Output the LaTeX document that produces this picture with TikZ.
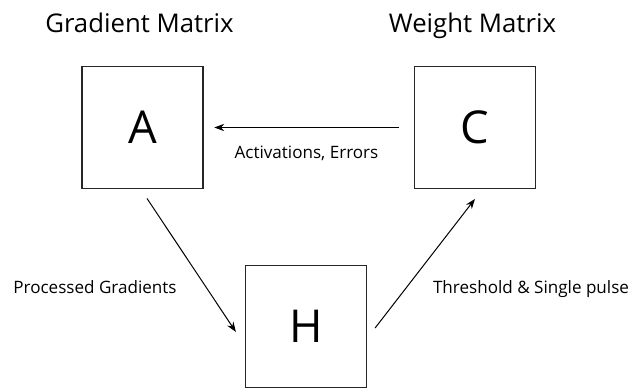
\documentclass[tikz,border=0pt]{standalone}
\usepackage{fontspec}
\setmainfont{Open Sans}
\usetikzlibrary{arrows.meta}
\begin{document}
\begin{tikzpicture}[x=0.75pt,y=-0.75pt,
  boxnode/.style={draw=black!85,line width=0.9pt,minimum width=90.75pt,minimum height=92pt,inner sep=0pt,font=\fontsize{34}{38}\selectfont},
  conn/.style={line width=0.75pt,-{Stealth[length=7.5pt,width=5.5pt]}},
  titlelbl/.style={anchor=base,inner sep=0pt,font=\fontsize{19.3}{22}\selectfont},
  edgelbl/.style={anchor=base,inner sep=0pt,font=\fontsize{12.8}{15}\selectfont}]
\useasboundingbox[fill=white] (0,0) rectangle (636,392);
\node[boxnode] (A) at (142.5,127.5) {A};
\node[boxnode] (C) at (475,127.5) {C};
\node[boxnode] (H) at (306,326.5) {H};
\node[titlelbl] (tA) at (139.5,33) {Gradient Matrix};
\node[titlelbl] (tC) at (472.5,33) {Weight Matrix};
\draw[conn] ([xshift=-11]C.west) -- ([xshift=8]A.east);
\draw[conn] ([shift={(4.5,9)}]A.south) -- ([shift={(-9,5.5)}]H.west);
\draw[conn] ([shift={(8,1.5)}]H.east) -- ([shift={(0,9.5)}]C.south);
\node[edgelbl] (l1) at (306.5,159) {Activations, Errors};
\node[edgelbl] (l2) at (95,293) {Processed Gradients};
\node[edgelbl] (l3) at (531,293) {Threshold \& Single pulse};
\end{tikzpicture}
\end{document}
